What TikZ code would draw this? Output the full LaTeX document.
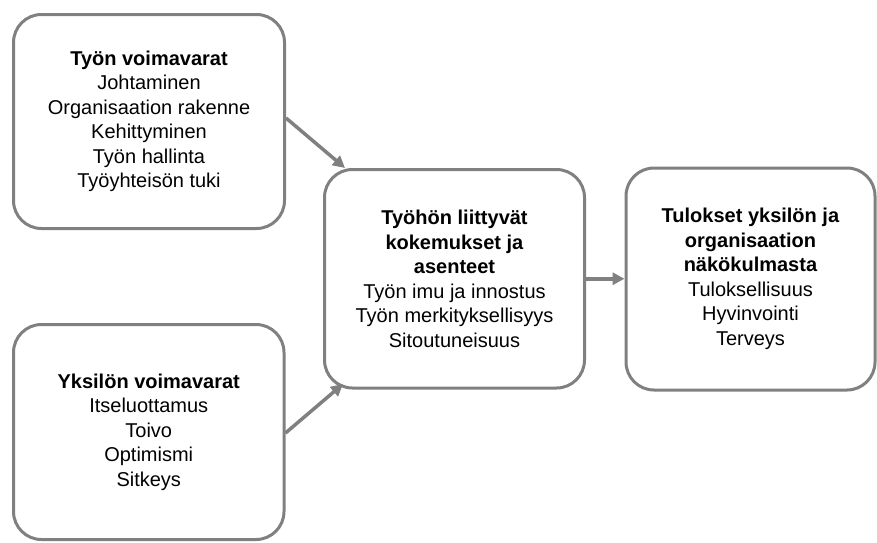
\documentclass[tikz,border=0pt]{standalone}
\usepackage{fontspec}
\setmainfont{Liberation Sans}
\usetikzlibrary{arrows.meta}
\definecolor{linegray}{HTML}{808080}
\begin{document}
\begin{tikzpicture}[x=1pt,y=-1pt,
  box/.style={draw=linegray, line width=3pt, rounded corners=28pt, align=center,
    font=\fontsize{20}{24.5}\selectfont, inner sep=0pt},
  arr/.style={draw=linegray, line width=3.5pt, -{Triangle[length=12pt,width=12pt]}}]
\useasboundingbox (0,0) rectangle (877,542);
\node[box, minimum width=271pt, minimum height=214pt] (b1) at (149,121.5)
  {\textbf{Työn voimavarat}\\Johtaminen\\Organisaation rakenne\\Kehittyminen\\Työn hallinta\\Työyhteisön tuki};
\node[box, minimum width=270.5pt, minimum height=215pt] (b2) at (148.75,432)
  {\textbf{Yksilön voimavarat}\\Itseluottamus\\Toivo\\Optimismi\\Sitkeys};
\node[box, minimum width=260pt, minimum height=218.5pt] (m) at (454.5,278.75)
  {\textbf{Työhön liittyvät}\\\textbf{kokemukset ja}\\\textbf{asenteet}\\Työn imu ja innostus\\Työn merkityksellisyys\\Sitoutuneisuus};
\node[box, minimum width=249pt, minimum height=222pt] (r) at (750.5,279)
  {\textbf{Tulokset yksilön ja}\\\textbf{organisaation}\\\textbf{näkökulmasta}\\Tuloksellisuus\\Hyvinvointi\\Terveys};
\coordinate (t1) at (345,168);
\coordinate (t2) at (343,384);
\draw[arr] ([yshift=3.5pt]b1.east) -- (t1);
\draw[arr] ([yshift=-1pt]b2.east) -- (t2);
\draw[arr] (m.east) -- (m.east -| r.west);
\end{tikzpicture}
\end{document}
